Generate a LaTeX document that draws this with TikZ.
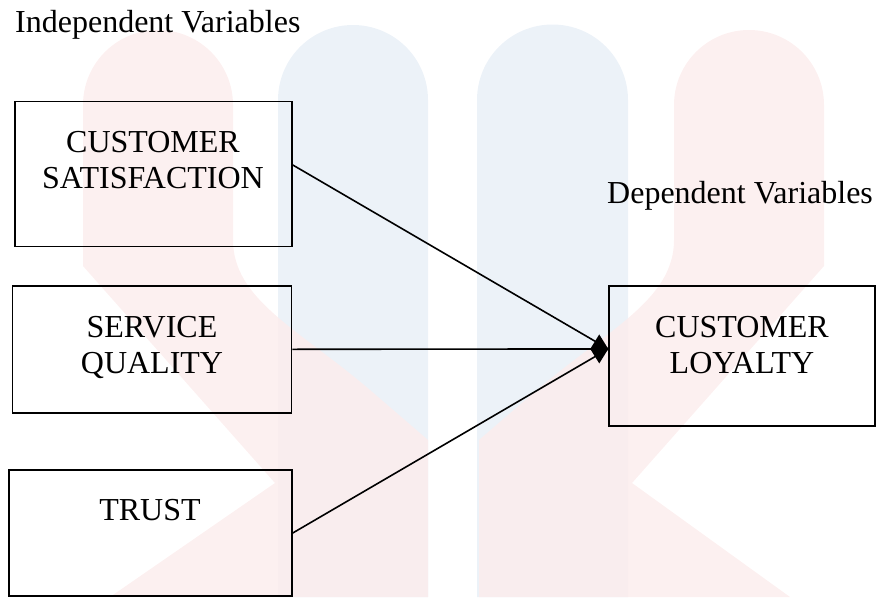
\documentclass[tikz,border=0pt]{standalone}
\usepackage{fontspec}
\setmainfont{Liberation Serif}
\usetikzlibrary{arrows.meta,calc}
\definecolor{wmpink}{RGB}{252,237,237}
\definecolor{wmblue}{RGB}{236,242,248}
\tikzset{
  varbox/.style={draw=black, line width=1.5pt, rectangle, inner sep=0pt},
  boxtext/.style={font=\fontsize{32}{36}\selectfont, align=center, anchor=base, inner sep=0pt},
  headtext/.style={font=\fontsize{32}{36}\selectfont, anchor=base west, inner sep=0pt},
  link/.style={draw=black, line width=1.6pt},
}
\begin{document}
\begin{tikzpicture}[x=1pt, y=-1pt]
\useasboundingbox (0,0) rectangle (877,597);

% faint background logo
\fill[wmblue] (278,597) -- (278,100) arc[start angle=180, end angle=360, radius=75] -- (428,597) -- cycle;
\fill[wmblue] (477,597) -- (477,100) arc[start angle=180, end angle=360, radius=75.5] -- (628,597) -- cycle;
\fill[wmpink, opacity=0.85] (83,266) -- (83,105) arc[start angle=180, end angle=360, radius=75]
  -- (233,240) .. controls (233,300) and (300,330) .. (370,390)
  -- (428,440) -- (428,597) -- (110,597) -- (275,483) -- cycle;
\fill[wmpink, opacity=0.85] (824,266) -- (824,105) arc[start angle=0, end angle=-180, radius=75]
  -- (674,240) .. controls (674,300) and (607,330) .. (537,390)
  -- (479,440) -- (479,597) -- (790,597) -- (632,483) -- cycle;

% headings
\node[headtext] (indep) at (15,32) {Independent Variables};
\node[headtext] (dep) at (607,203) {Dependent Variables};

% boxes
\node[varbox, minimum width=277pt, minimum height=145pt] (cs) at (153.5,174.2) {};
\node[varbox, minimum width=279pt, minimum height=127pt] (sq) at (152.2,349.3) {};
\node[varbox, minimum width=283pt, minimum height=126pt] (tr) at (150.5,533) {};
\node[varbox, minimum width=266pt, minimum height=140pt] (cl) at (742,356) {};

% box labels (base anchor sits on the last line)
\node[boxtext] (cstext) at (153,188.5) {CUSTOMER\\SATISFACTION};
\node[boxtext] (sqtext) at (152,373) {SERVICE\\QUALITY};
\node[boxtext] (trtext) at (150,520.5) {TRUST};
\node[boxtext] (cltext) at (742,373) {CUSTOMER\\LOYALTY};

% connectors
\coordinate (join) at ($(cl.north west)!0.45!(cl.south west)$);
\draw[link] ($(cs.north east)!0.437!(cs.south east)$) -- (join);
\draw[link] (tr.east) -- (join);
\draw[link, -{Kite[length=18pt, width=29pt, inset=9pt]}] (sq.east) -- (join);
\end{tikzpicture}
\end{document}
